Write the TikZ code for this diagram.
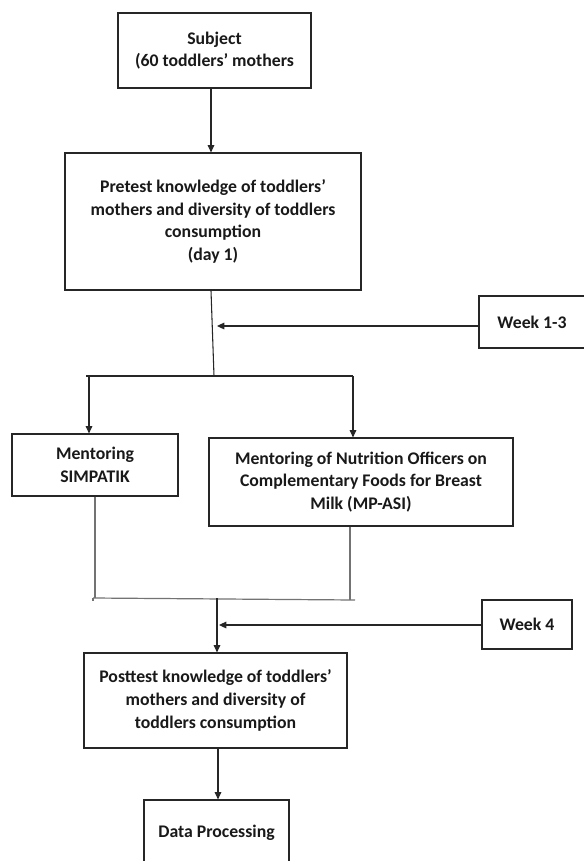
\documentclass[tikz,border=0pt]{standalone}
\usepackage{fontspec}
\setmainfont{Carlito}
\usetikzlibrary{arrows.meta}
\begin{document}
\begin{tikzpicture}[x=0.75pt,y=-0.75pt,
  box/.style={draw=black!85, line width=0.9pt, align=center, inner sep=0pt,
    font=\bfseries\fontsize{13.3}{17}\selectfont, text=black!90},
  arr/.style={draw=black!85, line width=0.8pt, -{Triangle[length=5.5pt,width=5pt]}},
  ln/.style={draw=black!85, line width=0.8pt},
  gln/.style={draw=black!55, line width=0.9pt}]
\useasboundingbox (0,0) rectangle (583,861);
\fill[white] (0,0) rectangle (583,861);

\node[box, minimum width=144.75pt, minimum height=56.25pt] (subj) at (214.5,50.5)
  {Subject\\(60 toddlers’ mothers};
\node[box, minimum width=222pt, minimum height=102.75pt] (pre) at (213,221.5)
  {Pretest knowledge of toddlers’\\mothers and diversity of toddlers\\consumption\\(day 1)};
\node[box, minimum width=79.5pt, minimum height=39pt] (w13) at (532,322)
  {Week 1-3};
\node[box, minimum width=124.5pt, minimum height=46.5pt] (simp) at (95,465)
  {Mentoring\\SIMPATIK};
\node[box, minimum width=228pt, minimum height=66pt] (nutr) at (361,482)
  {Mentoring of Nutrition Officers on\\Complementary Foods for Breast\\Milk (MP-ASI)};
\node[box, minimum width=67.5pt, minimum height=36.75pt] (w4) at (527,624.5)
  {Week 4};
\node[box, minimum width=197.25pt, minimum height=71.25pt] (post) at (215.5,700.5)
  {Posttest knowledge of toddlers’\\mothers and diversity of\\toddlers consumption};
\node[box, minimum width=108.75pt, minimum height=49.5pt] (data) at (216.5,833)
  {Data Processing};

% coordinates
\coordinate (c1) at (211,0);
\coordinate (split) at (214,376);
\coordinate (sL) at (86,376);
\coordinate (sR) at (353,376);
\coordinate (aL) at (89,376);
\coordinate (w13tip) at (217,326);
\coordinate (mL) at (93,598);
\coordinate (mR) at (355,600);
\coordinate (mC) at (217,598);
\coordinate (w4tip) at (219,625);
\coordinate (c2) at (218,0);

\draw[arr] (subj.south -| c1) -- (pre.north -| c1);
\draw[ln] (pre.south -| c1) -- (split);
\draw[ln] (sL) -- (sR);
\draw[arr] (aL) -- (aL |- simp.north);
\draw[arr] (sR) -- (sR |- nutr.north);
\draw[arr] (w13.west |- w13tip) -- (w13tip);
\draw[gln] (simp.south -| 95,0) -- (95,598);
\draw[gln] (nutr.south -| 350,0) -- (350,600);
\draw[gln] (mL) -- (mR);
\draw[gln] (mL) -- ++(0,3);
\draw[arr] (mC) -- (mC |- post.north);
\draw[arr] (w4.west |- w4tip) -- (w4tip);
\draw[arr] (post.south -| c2) -- (data.north -| c2);
\end{tikzpicture}
\end{document}
